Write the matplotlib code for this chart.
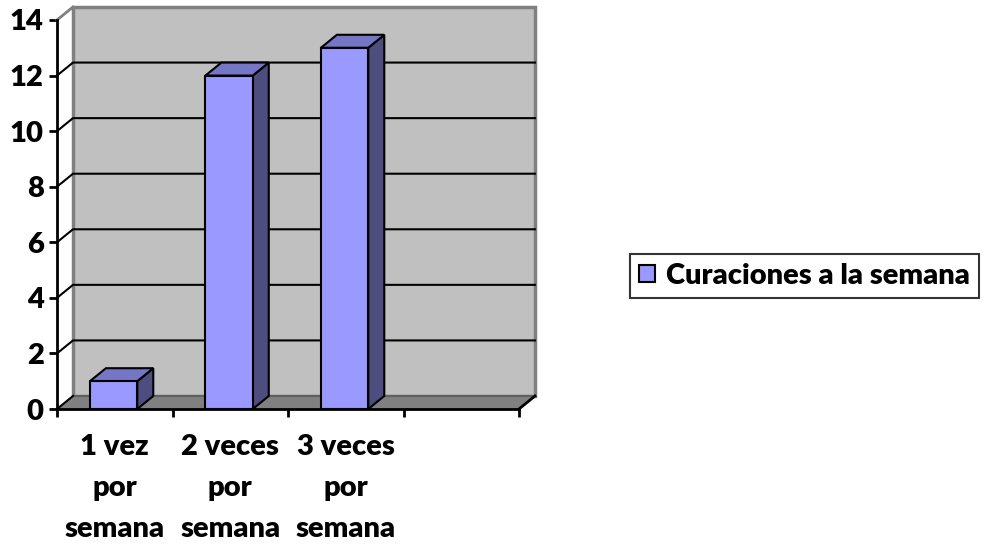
import matplotlib
matplotlib.use("Agg")
import matplotlib.pyplot as plt
from matplotlib.patches import Polygon, Rectangle

plt.rcParams['font.family'] = ['Lato', 'DejaVu Sans']
plt.rcParams['font.weight'] = 'bold'

# datos
categorias = ["1 vez\npor\nsemana", "2 veces\npor\nsemana", "3 veces\npor\nsemana", ""]
valores = [1, 12, 13, None]
serie = "Curaciones a la semana"
yticks = [0, 2, 4, 6, 8, 10, 12, 14]

# estilo 3D tipo Excel
DX, DY = 0.1385, 0.468     # profundidad en unidades de datos
ANCHO = 0.41
C_FRENTE, C_TAPA, C_LADO = "#9999FF", "#7676C6", "#4D4D80"
C_PARED, C_PISO, C_BORDE = "#C0C0C0", "#808080", "#808080"
FS = 21

fig = plt.figure(figsize=(9.86, 5.44), dpi=100)
ax = fig.add_axes([57 / 986, 1 - 409 / 544, 462 / 986, 389 / 544])
n = len(categorias)
ymax = yticks[-1]
ax.set_xlim(0, n)
ax.set_ylim(0, ymax)
ax.patch.set_visible(False)

# pared del fondo y piso
ax.add_patch(Rectangle((DX, DY), n, ymax, facecolor=C_PARED, edgecolor=C_BORDE,
                       lw=2.5, zorder=1, clip_on=False))
ax.add_patch(Polygon([(0, 0), (n, 0), (n + DX, DY), (DX, DY)], closed=True,
                     facecolor=C_PISO, edgecolor="none", zorder=2, clip_on=False))
ax.plot([DX, n + DX], [DY, DY], color="#606060", lw=1.5, zorder=2, clip_on=False)
ax.plot([0, DX], [0, DY], color="black", lw=1.5, zorder=3, clip_on=False)
ax.plot([n, n + DX], [0, DY], color="black", lw=2, zorder=3, clip_on=False)

# lineas de cuadricula
for v in yticks[1:-1]:
    ax.plot([0, DX, n + DX], [v, v + DY, v + DY], color="black", lw=1.5,
            zorder=2, clip_on=False)
ax.plot([0, DX], [ymax, ymax + DY], color=C_BORDE, lw=2, zorder=2, clip_on=False)

# barras
xs = [i + 0.49 for i in range(n)]
cont = None
for x, v in zip(xs, valores):
    if v is None:
        continue
    x0, x1 = x - ANCHO / 2, x + ANCHO / 2
    b = ax.bar(x, v, width=ANCHO, color=C_FRENTE, edgecolor="black", lw=1.5,
               zorder=5, label=serie)
    cont = cont or b
    ax.add_patch(Polygon([(x1, 0), (x1, v), (x1 + DX, v + DY), (x1 + DX, DY)],
                         closed=True, facecolor=C_LADO, edgecolor="black",
                         lw=1.5, zorder=4))
    ax.add_patch(Polygon([(x0, v), (x1, v), (x1 + DX, v + DY), (x0 + DX, v + DY)],
                         closed=True, facecolor=C_TAPA, edgecolor="black",
                         lw=1.5, zorder=4))

# ejes
for s in ["top", "right"]:
    ax.spines[s].set_visible(False)
for s in ["left", "bottom"]:
    ax.spines[s].set_linewidth(2)
    ax.spines[s].set_zorder(6)
ax.set_yticks(yticks)
ax.set_yticklabels([str(v) for v in yticks], fontsize=FS, fontweight="heavy")
ax.tick_params(axis="y", length=6, width=2, pad=3.5)
ax.set_xticks([i + 0.5 for i in range(n)])
ax.set_xticklabels(categorias, fontsize=FS, fontweight="heavy", linespacing=1.72)
ax.tick_params(axis="x", which="major", length=0, pad=18)
ax.set_xticks(range(n + 1), minor=True)
ax.tick_params(axis="x", which="minor", length=6, width=2, direction="out")

leg = fig.legend(handles=[cont], labels=[serie], loc="center left",
                 bbox_to_anchor=(630 / 986, 1 - 276 / 544),
                 prop={"weight": "heavy", "size": FS}, frameon=True,
                 fancybox=False, handlelength=0.55, handleheight=0.55,
                 handletextpad=0.4, borderpad=0.3, borderaxespad=0)
leg.get_frame().set_edgecolor("black")
leg.get_frame().set_linewidth(1.5)

fig.savefig("out.png", dpi=100)
